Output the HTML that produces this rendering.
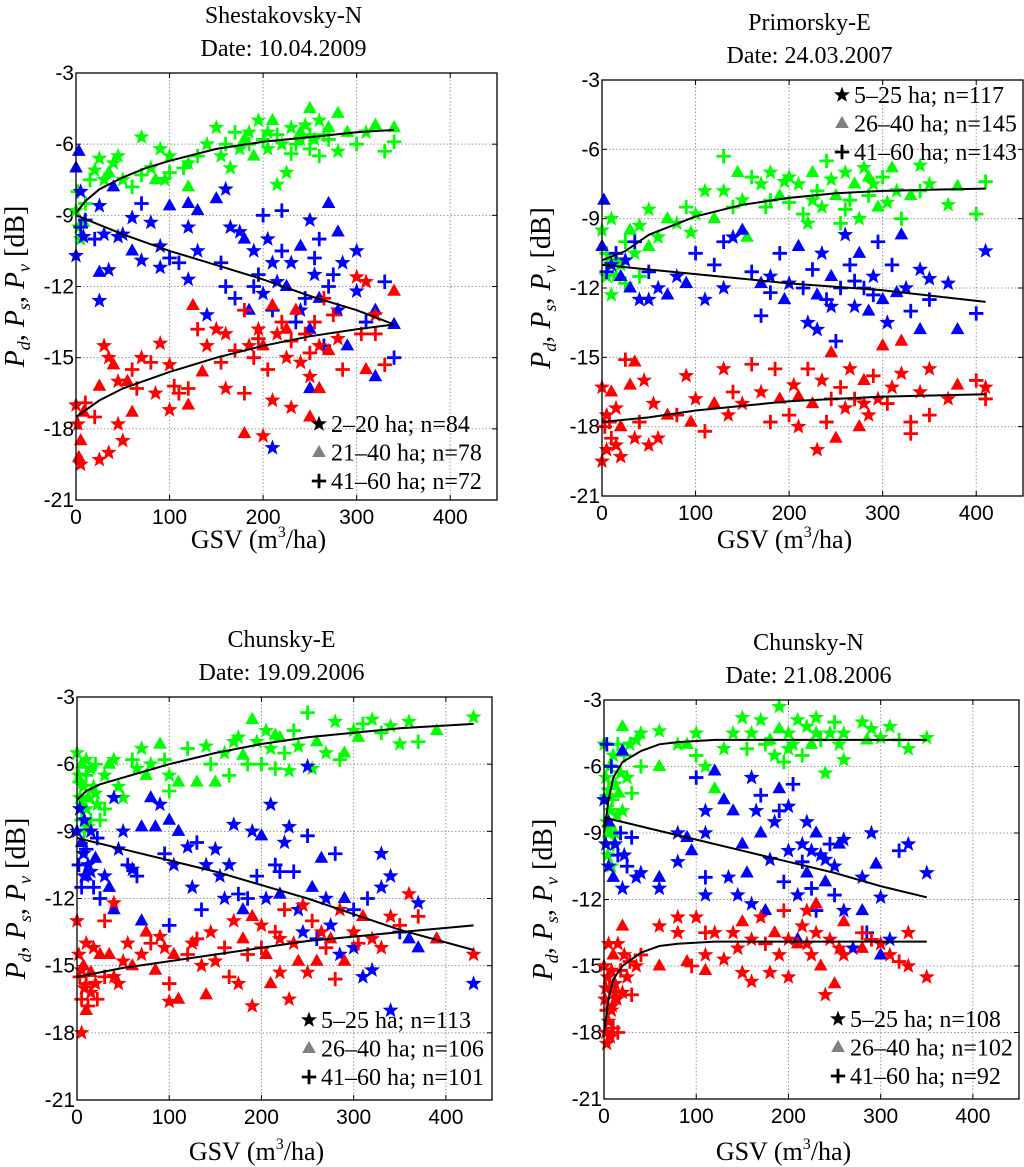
<!DOCTYPE html>
<html><head><meta charset="utf-8"><style>
body{margin:0;background:#fff;width:1024px;height:1167px;overflow:hidden}
svg{display:block}
</style></head><body>
<svg id="fig" width="1024" height="1167" xmlns="http://www.w3.org/2000/svg" font-family="Liberation Serif, serif"></svg>
<script>
// ---------------- data ----------------
const xTicks=[0,100,200,300,400];
const yTicks=[-3,-6,-9,-12,-15,-18,-21];
// Panel 1 Shestakovsky-N
const p1Green=[[0,-8.8,'s'],[3,-9.5,'s'],[5,-10,'s'],[8,-9.3,'t'],[2,-8,'p'],[10,-8.5,'p'],[15,-7.5,'p'],[20,-7.1,'s'],[25,-6.6,'s'],[30,-7.5,'s'],[35,-7.2,'t'],[40,-6.8,'s'],[45,-6.5,'s'],[50,-7.5,'s'],[60,-7.8,'p'],[70,-5.7,'s'],[70,-7.3,'p'],[80,-7.0,'s'],[85,-7.5,'t'],[90,-6.2,'s'],[95,-7.5,'s'],[100,-6.5,'s'],[100,-7.2,'p'],[115,-7.0,'p'],[120,-6.8,'s'],[120,-7.8,'t'],[130,-6.5,'p'],[140,-6.0,'s'],[150,-5.3,'s'],[155,-6.5,'s'],[160,-6.0,'p'],[165,-7.0,'s'],[170,-5.5,'p'],[180,-5.8,'t'],[185,-5.5,'s'],[190,-6.5,'t'],[195,-5.0,'s'],[200,-5.8,'p'],[205,-6.2,'s'],[210,-5.0,'t'],[215,-5.6,'p'],[220,-6.0,'s'],[225,-7.2,'s'],[230,-5.3,'s'],[235,-6.0,'p'],[240,-5.5,'t'],[245,-5.2,'s'],[250,-4.5,'t'],[250,-6.2,'p'],[255,-5.8,'s'],[260,-5.0,'s'],[260,-6.5,'p'],[265,-5.6,'p'],[270,-5.3,'t'],[280,-4.7,'t'],[280,-6.3,'s'],[290,-5.5,'t'],[300,-6.0,'p'],[310,-5.5,'s'],[320,-5.2,'t'],[330,-6.3,'p'],[340,-5.3,'t'],[340,-5.9,'p'],[215,-7.7,'s'],[240,-5.8,'s'],[250,-5.6,'p'],[270,-5.8,'p'],[185,-6.0,'p'],[175,-6.2,'s'],[230,-6.4,'p'],[205,-5.5,'s']];
const p1Blue=[[0,-7.0,'t'],[3,-6.3,'t'],[5,-8.0,'s'],[0,-10.7,'s'],[5,-9.5,'p'],[8,-9.9,'s'],[10,-9.2,'p'],[20,-10.0,'p'],[25,-8.6,'s'],[25,-11.4,'t'],[25,-12.6,'s'],[30,-9.8,'s'],[35,-11.3,'s'],[40,-7.8,'t'],[45,-9.9,'s'],[50,-9.8,'s'],[60,-10.5,'t'],[60,-9.1,'s'],[70,-8.5,'p'],[70,-10.9,'s'],[80,-9.3,'s'],[90,-11.2,'s'],[90,-10.3,'s'],[100,-8.6,'t'],[100,-10.8,'p'],[110,-11.0,'p'],[120,-9.5,'s'],[120,-11.7,'s'],[120,-8.5,'t'],[130,-10.5,'s'],[130,-8.8,'t'],[140,-13.2,'s'],[150,-8.3,'t'],[155,-11.0,'p'],[160,-7.9,'s'],[160,-12.0,'p'],[165,-9.5,'s'],[170,-12.5,'p'],[175,-9.7,'s'],[180,-10.0,'t'],[185,-13.0,'t'],[190,-10.5,'s'],[195,-11.5,'p'],[200,-9.0,'p'],[200,-12.3,'s'],[205,-10.0,'s'],[210,-13.0,'p'],[210,-18.8,'s'],[215,-11.8,'s'],[220,-8.8,'p'],[220,-10.5,'p'],[225,-12.0,'t'],[230,-11.0,'s'],[235,-13.5,'p'],[240,-10.3,'t'],[245,-12.5,'p'],[250,-9.2,'s'],[250,-13.8,'t'],[255,-11.5,'s'],[260,-10.0,'p'],[260,-12.5,'t'],[265,-14.5,'p'],[270,-8.5,'t'],[275,-11.5,'p'],[280,-9.7,'t'],[280,-13.0,'s'],[285,-11.0,'s'],[290,-14.5,'t'],[300,-10.5,'s'],[300,-12.2,'s'],[310,-13.5,'p'],[320,-13.0,'t'],[320,-15.8,'t'],[330,-11.8,'p'],[340,-13.6,'t'],[340,-15.0,'p'],[250,-16.3,'t'],[270,-12.0,'p'],[240,-13.0,'s'],[190,-12.0,'p'],[210,-11.0,'s'],[255,-10.8,'p']];
const p1Red=[[0,-17.0,'s'],[2,-17.8,'s'],[3,-19.2,'t'],[5,-18.5,'t'],[5,-19.5,'s'],[8,-17.3,'t'],[10,-16.9,'p'],[20,-17.5,'p'],[25,-19.3,'s'],[25,-16.2,'t'],[30,-14.5,'s'],[35,-19.0,'s'],[35,-15.0,'s'],[40,-15.3,'t'],[45,-16.0,'s'],[45,-17.8,'s'],[50,-18.5,'s'],[55,-16.0,'t'],[60,-15.5,'p'],[60,-17.3,'t'],[65,-16.3,'p'],[70,-15.0,'s'],[80,-15.2,'p'],[85,-16.5,'s'],[90,-14.4,'s'],[100,-15.3,'s'],[100,-17.2,'s'],[105,-16.2,'p'],[110,-16.5,'p'],[120,-16.3,'p'],[120,-17.0,'t'],[125,-12.8,'t'],[130,-13.8,'p'],[135,-15.6,'t'],[140,-14.5,'s'],[150,-13.8,'s'],[155,-15.2,'p'],[160,-16.3,'s'],[160,-14.0,'s'],[170,-14.7,'p'],[180,-16.5,'p'],[180,-13.0,'p'],[180,-18.2,'t'],[185,-14.5,'s'],[190,-15.0,'p'],[195,-13.8,'s'],[200,-18.3,'s'],[200,-14.5,'t'],[205,-15.5,'p'],[210,-12.8,'t'],[210,-16.8,'s'],[215,-14.0,'s'],[220,-13.5,'p'],[225,-15.0,'s'],[230,-14.3,'p'],[230,-17.1,'s'],[235,-13.0,'t'],[240,-15.2,'s'],[245,-14.0,'p'],[250,-15.8,'s'],[250,-17.5,'t'],[255,-13.5,'p'],[260,-14.5,'s'],[260,-16.3,'t'],[265,-12.5,'p'],[270,-14.7,'t'],[275,-13.2,'p'],[280,-14.2,'s'],[285,-15.5,'p'],[300,-11.6,'s'],[305,-14.0,'p'],[310,-11.8,'s'],[320,-13.2,'s'],[320,-14.0,'p'],[340,-12.2,'t'],[330,-15.3,'p'],[310,-15.5,'t'],[195,-14.2,'p'],[225,-13.8,'t'],[250,-14.8,'p']];
const p1GreenFitX=[0,10,25,50,75,100,150,200,250,300,340];
const p1GreenFitY=[-8.9,-8.4,-7.9,-7.4,-7.0,-6.7,-6.2,-5.9,-5.7,-5.5,-5.4];
const p1BlueFitX=[0,50,100,150,200,250,300,340];
const p1BlueFitY=[-9.0,-9.8,-10.5,-11.1,-11.7,-12.4,-13.0,-13.6];
const p1RedFitX=[0,25,50,100,150,200,250,300,340];
const p1RedFitY=[-17.5,-16.8,-16.3,-15.6,-15.0,-14.5,-14.1,-13.8,-13.6];
// Panel 2 Primorsky-E
const p2Green=[[0,-9.5,'s'],[5,-11.5,'s'],[5,-10.5,'p'],[10,-12.3,'s'],[10,-9.0,'s'],[15,-10.8,'t'],[20,-11.0,'s'],[25,-10.0,'p'],[30,-9.5,'t'],[35,-10.5,'s'],[40,-11.5,'p'],[40,-9.3,'s'],[50,-8.6,'s'],[50,-10.2,'t'],[60,-9.8,'s'],[70,-9.0,'t'],[80,-9.2,'s'],[90,-8.5,'p'],[95,-9.6,'s'],[100,-8.8,'s'],[110,-7.8,'s'],[120,-9.0,'t'],[130,-6.3,'p'],[130,-7.8,'s'],[140,-8.5,'p'],[145,-7.0,'t'],[150,-8.2,'s'],[155,-9.8,'t'],[160,-7.2,'p'],[170,-7.5,'s'],[175,-8.5,'p'],[180,-7.0,'s'],[190,-8.0,'t'],[195,-7.4,'s'],[200,-8.3,'p'],[210,-7.5,'s'],[215,-8.8,'p'],[220,-9.2,'s'],[225,-7.0,'t'],[230,-7.8,'p'],[235,-8.5,'s'],[240,-6.5,'p'],[245,-7.3,'s'],[250,-8.0,'t'],[255,-9.2,'p'],[260,-7.0,'s'],[265,-8.2,'p'],[270,-7.5,'t'],[275,-9.0,'s'],[280,-6.8,'s'],[285,-8.0,'p'],[290,-7.5,'s'],[295,-8.5,'t'],[300,-7.2,'p'],[305,-8.3,'s'],[310,-6.8,'t'],[315,-7.8,'s'],[320,-9.0,'p'],[330,-8.0,'t'],[340,-6.7,'s'],[340,-7.8,'p'],[350,-7.5,'s'],[370,-8.4,'s'],[380,-7.6,'t'],[400,-8.8,'p'],[410,-7.4,'p'],[260,-8.6,'p'],[200,-7.2,'s'],[180,-8.2,'p'],[15,-11.5,'s'],[25,-11.8,'p'],[8,-10.8,'t'],[225,-8.2,'s'],[285,-7.2,'t']];
const p2Blue=[[0,-10.2,'t'],[2,-8.2,'t'],[5,-11.3,'p'],[10,-11.0,'s'],[15,-10.5,'p'],[20,-11.5,'t'],[25,-10.8,'s'],[30,-12.0,'t'],[35,-10.0,'p'],[40,-12.5,'s'],[50,-12.5,'s'],[50,-11.3,'p'],[60,-12.0,'s'],[70,-12.3,'t'],[80,-11.5,'s'],[90,-11.8,'t'],[100,-10.5,'p'],[110,-12.5,'s'],[120,-11.0,'p'],[130,-10.0,'p'],[130,-12.0,'s'],[140,-9.8,'s'],[150,-9.5,'t'],[160,-11.3,'p'],[170,-11.8,'t'],[170,-13.2,'p'],[180,-11.5,'s'],[190,-10.5,'p'],[195,-12.5,'t'],[200,-11.8,'s'],[210,-10.2,'t'],[215,-12.0,'p'],[220,-13.5,'s'],[225,-11.2,'p'],[230,-13.8,'s'],[235,-10.5,'s'],[240,-12.5,'p'],[245,-11.5,'t'],[250,-14.3,'p'],[255,-12.0,'p'],[260,-9.7,'s'],[265,-11.0,'p'],[270,-12.8,'s'],[275,-10.5,'t'],[280,-12.0,'p'],[285,-13.0,'t'],[290,-11.5,'s'],[295,-10.0,'p'],[300,-12.5,'t'],[305,-13.5,'s'],[310,-11.0,'p'],[320,-9.7,'t'],[325,-12.0,'s'],[330,-13.0,'p'],[340,-11.2,'s'],[340,-13.8,'t'],[350,-12.5,'p'],[350,-11.6,'s'],[370,-11.8,'s'],[380,-13.8,'t'],[400,-13.1,'p'],[410,-10.4,'s'],[270,-11.7,'p'],[230,-12.3,'t'],[180,-12.2,'p'],[245,-12.8,'s'],[290,-12.3,'p'],[315,-12.2,'t']];
const p2Red=[[0,-16.3,'s'],[0,-19.5,'s'],[3,-18.0,'p'],[5,-17.5,'s'],[5,-19.0,'s'],[10,-18.5,'p'],[10,-16.5,'t'],[15,-17.2,'s'],[20,-19.3,'s'],[20,-18.0,'t'],[25,-15.1,'p'],[30,-16.2,'t'],[35,-15.2,'t'],[35,-18.5,'s'],[40,-17.8,'p'],[45,-16.0,'s'],[50,-18.8,'s'],[55,-17.0,'s'],[60,-18.5,'s'],[70,-17.5,'t'],[80,-17.5,'p'],[90,-15.8,'s'],[95,-17.8,'t'],[100,-16.8,'s'],[110,-18.2,'p'],[120,-17.0,'t'],[130,-15.5,'s'],[135,-17.5,'s'],[140,-16.5,'p'],[150,-17.0,'s'],[160,-15.3,'p'],[170,-16.5,'s'],[180,-17.8,'p'],[185,-15.5,'p'],[190,-16.8,'t'],[200,-17.5,'p'],[205,-16.2,'s'],[210,-18.0,'s'],[220,-15.5,'p'],[225,-17.0,'t'],[230,-19.0,'s'],[235,-16.0,'s'],[240,-17.8,'p'],[245,-14.8,'t'],[250,-18.5,'t'],[255,-16.3,'p'],[260,-17.2,'s'],[265,-15.5,'s'],[270,-16.8,'p'],[275,-18.0,'t'],[280,-16.0,'t'],[285,-17.5,'s'],[290,-15.8,'p'],[295,-16.8,'s'],[300,-14.5,'t'],[305,-17.0,'p'],[310,-16.3,'s'],[320,-14.3,'t'],[320,-15.7,'s'],[330,-17.8,'p'],[330,-18.3,'p'],[340,-16.5,'s'],[350,-15.5,'s'],[350,-17.5,'p'],[370,-16.8,'s'],[380,-16.2,'t'],[400,-16.0,'p'],[410,-16.3,'s'],[410,-16.8,'p'],[210,-16.7,'t'],[15,-18.8,'s'],[8,-17.8,'p'],[245,-16.8,'p'],[280,-17.0,'s']];
const p2GreenFitX=[0,25,50,100,150,200,250,300,350,410];
const p2GreenFitY=[-10.8,-10.4,-9.7,-8.9,-8.4,-8.1,-7.9,-7.8,-7.75,-7.7];
const p2BlueFitX=[0,100,200,300,410];
const p2BlueFitY=[-11.0,-11.4,-11.8,-12.1,-12.6];
const p2RedFitX=[0,50,100,150,200,250,300,410];
const p2RedFitY=[-17.8,-17.6,-17.3,-17.1,-16.9,-16.8,-16.7,-16.6];
// Panel 3 Chunsky-E
const p3Green=[[0,-5.5,'s'],[2,-6.5,'s'],[3,-7.5,'s'],[5,-8.5,'p'],[5,-6.0,'t'],[7,-7.0,'s'],[8,-9.0,'p'],[10,-6.5,'p'],[10,-8.0,'s'],[12,-7.5,'t'],[15,-6.2,'s'],[15,-8.5,'p'],[18,-7.0,'s'],[20,-6.0,'p'],[22,-7.8,'s'],[25,-8.5,'p'],[30,-6.5,'s'],[30,-8.0,'p'],[35,-6.0,'t'],[40,-5.8,'s'],[45,-7.0,'s'],[50,-7.5,'s'],[60,-5.8,'p'],[65,-6.2,'s'],[70,-5.3,'s'],[75,-6.5,'t'],[80,-6.0,'s'],[90,-5.1,'t'],[95,-5.8,'p'],[100,-6.5,'s'],[100,-7.2,'p'],[110,-6.8,'t'],[120,-5.3,'p'],[130,-6.8,'t'],[140,-5.2,'s'],[145,-6.0,'p'],[150,-6.8,'t'],[160,-5.5,'s'],[165,-6.5,'p'],[170,-5.0,'s'],[180,-5.6,'t'],[185,-6.0,'p'],[190,-4.0,'t'],[195,-5.0,'s'],[200,-6.0,'p'],[205,-4.5,'s'],[210,-5.3,'s'],[215,-6.2,'p'],[220,-4.8,'t'],[225,-5.5,'p'],[230,-6.3,'s'],[235,-4.5,'p'],[240,-5.2,'s'],[250,-3.7,'p'],[255,-6.2,'s'],[260,-5.0,'t'],[270,-5.5,'s'],[280,-4.1,'s'],[285,-5.8,'p'],[290,-5.5,'t'],[300,-4.5,'s'],[305,-4.8,'t'],[310,-4.2,'p'],[320,-4.0,'s'],[330,-4.6,'p'],[340,-4.3,'s'],[350,-5.1,'s'],[360,-4.1,'s'],[370,-5.0,'p'],[390,-4.5,'t'],[430,-3.9,'s'],[10,-5.8,'s'],[5,-7.8,'t'],[3,-6.8,'p'],[12,-8.8,'s'],[20,-7.3,'s'],[175,-4.8,'s'],[215,-4.7,'t']];
const p3Blue=[[0,-9.0,'s'],[2,-10.5,'p'],[3,-8.0,'s'],[5,-11.5,'p'],[5,-9.5,'t'],[7,-10.0,'s'],[8,-8.5,'s'],[10,-11.0,'t'],[10,-9.8,'p'],[12,-10.5,'s'],[15,-9.0,'s'],[18,-11.5,'p'],[20,-10.2,'t'],[22,-9.3,'p'],[25,-12.0,'p'],[30,-11.0,'s'],[35,-11.5,'t'],[40,-12.5,'t'],[40,-7.5,'s'],[45,-9.8,'s'],[50,-9.0,'s'],[55,-10.5,'p'],[60,-10.7,'s'],[65,-11.0,'p'],[70,-8.8,'t'],[70,-13.0,'t'],[80,-7.5,'t'],[85,-8.8,'t'],[90,-7.8,'s'],[95,-10.0,'p'],[100,-8.5,'t'],[100,-13.2,'p'],[105,-10.5,'s'],[110,-9.0,'t'],[120,-9.7,'s'],[125,-11.5,'s'],[130,-9.5,'p'],[135,-12.5,'p'],[140,-10.5,'s'],[150,-9.8,'s'],[155,-11.0,'s'],[160,-12.0,'s'],[165,-10.5,'s'],[170,-8.7,'s'],[175,-11.8,'p'],[180,-12.5,'t'],[190,-9.0,'s'],[195,-11.0,'p'],[200,-9.2,'t'],[205,-12.0,'s'],[210,-7.8,'s'],[215,-10.5,'p'],[220,-11.8,'t'],[225,-9.5,'s'],[230,-8.8,'s'],[235,-10.8,'p'],[240,-12.5,'s'],[245,-13.5,'s'],[250,-9.2,'p'],[255,-11.5,'t'],[260,-13.8,'p'],[265,-10.2,'t'],[270,-12.0,'s'],[275,-13.2,'s'],[280,-10.0,'p'],[285,-14.5,'s'],[290,-12.0,'t'],[300,-14.2,'s'],[300,-12.5,'p'],[310,-15.5,'s'],[315,-12.0,'p'],[320,-15.2,'s'],[330,-11.5,'s'],[330,-10.0,'s'],[340,-11.0,'s'],[340,-17.0,'s'],[350,-13.5,'p'],[360,-13.8,'t'],[370,-12.2,'s'],[370,-14.2,'t'],[390,-13.8,'t'],[430,-15.8,'s'],[250,-6.1,'s'],[15,-10.8,'s'],[8,-11.0,'s'],[185,-12.0,'p'],[220,-10.8,'p']];
const p3Red=[[0,-13.0,'s'],[2,-14.5,'s'],[3,-15.5,'p'],[5,-16.5,'p'],[5,-18.0,'s'],[7,-15.0,'t'],[8,-16.0,'s'],[10,-14.0,'s'],[10,-15.8,'p'],[12,-16.8,'p'],[15,-15.3,'t'],[18,-14.2,'s'],[20,-15.8,'s'],[22,-16.5,'p'],[25,-14.5,'t'],[30,-15.5,'p'],[30,-13.0,'p'],[35,-14.5,'t'],[40,-12.2,'s'],[40,-15.5,'s'],[45,-15.8,'s'],[50,-14.8,'s'],[55,-14.0,'s'],[60,-15.0,'t'],[70,-14.5,'s'],[75,-13.5,'t'],[80,-14.0,'p'],[85,-15.2,'t'],[90,-13.7,'s'],[95,-14.2,'s'],[100,-15.8,'p'],[100,-16.6,'s'],[105,-14.5,'t'],[110,-16.5,'t'],[120,-14.5,'p'],[125,-14.0,'s'],[130,-13.8,'p'],[135,-15.0,'s'],[140,-16.3,'t'],[145,-13.5,'s'],[150,-14.8,'s'],[160,-14.2,'p'],[165,-15.5,'p'],[170,-13.0,'s'],[175,-15.8,'s'],[180,-13.8,'t'],[185,-14.5,'p'],[190,-16.8,'s'],[190,-12.8,'t'],[200,-13.2,'s'],[205,-14.5,'t'],[210,-15.8,'t'],[215,-13.5,'p'],[220,-15.3,'s'],[225,-12.5,'p'],[230,-16.5,'s'],[235,-14.0,'s'],[240,-14.8,'t'],[245,-12.3,'s'],[250,-15.3,'s'],[255,-13.0,'p'],[260,-14.8,'t'],[265,-13.5,'s'],[270,-14.2,'p'],[275,-13.8,'t'],[280,-15.6,'p'],[285,-12.5,'s'],[290,-14.8,'t'],[300,-13.5,'s'],[305,-14.0,'p'],[310,-12.8,'t'],[320,-13.8,'s'],[330,-14.2,'s'],[340,-12.8,'s'],[350,-13.2,'p'],[360,-11.8,'s'],[370,-12.8,'p'],[390,-13.8,'t'],[430,-14.5,'s'],[5,-15.2,'s'],[15,-16.2,'s'],[10,-17.0,'t'],[200,-14.2,'p'],[220,-13.8,'s']];
const p3GreenFitX=[0,10,25,50,100,150,200,250,300,350,430];
const p3GreenFitY=[-7.6,-7.2,-6.9,-6.6,-6.0,-5.5,-5.1,-4.8,-4.6,-4.4,-4.2];
const p3BlueFitX=[0,50,100,150,200,250,300,350,430];
const p3BlueFitY=[-9.3,-9.8,-10.3,-10.8,-11.4,-12.0,-12.7,-13.4,-14.3];
const p3RedFitX=[0,50,100,150,200,250,300,350,430];
const p3RedFitY=[-15.5,-15.1,-14.8,-14.5,-14.2,-13.9,-13.7,-13.5,-13.2];
// Panel 4 Chunsky-N
const p4Green=[[0,-5.0,'s'],[2,-6.5,'s'],[3,-8.5,'s'],[4,-10.0,'s'],[5,-7.0,'p'],[5,-9.0,'t'],[6,-6.0,'s'],[7,-8.0,'s'],[8,-10.5,'s'],[9,-7.5,'p'],[10,-5.5,'s'],[10,-9.5,'p'],[12,-6.8,'s'],[14,-8.2,'s'],[15,-5.0,'p'],[16,-7.2,'t'],[18,-6.3,'s'],[20,-4.2,'t'],[20,-8.0,'s'],[22,-5.5,'p'],[25,-6.5,'s'],[28,-5.0,'s'],[30,-7.2,'p'],[35,-4.8,'s'],[40,-6.0,'p'],[40,-4.5,'s'],[60,-6.0,'t'],[60,-4.4,'s'],[80,-5.0,'s'],[90,-5.0,'t'],[100,-4.5,'s'],[100,-5.5,'p'],[110,-6.0,'s'],[120,-7.0,'t'],[130,-5.2,'s'],[140,-4.5,'s'],[150,-3.8,'s'],[155,-5.2,'p'],[160,-4.5,'s'],[170,-3.9,'s'],[175,-5.0,'p'],[180,-4.8,'t'],[185,-5.5,'s'],[190,-3.3,'s'],[190,-4.3,'t'],[195,-5.8,'p'],[200,-4.5,'s'],[205,-5.0,'s'],[210,-3.9,'s'],[215,-5.5,'p'],[220,-4.2,'s'],[225,-5.0,'t'],[230,-3.8,'s'],[235,-4.8,'p'],[240,-6.3,'s'],[245,-4.5,'s'],[250,-4.0,'p'],[255,-5.0,'s'],[260,-4.5,'s'],[260,-5.7,'s'],[280,-4.0,'s'],[285,-4.8,'t'],[290,-4.3,'s'],[300,-4.7,'s'],[310,-4.2,'s'],[320,-4.8,'p'],[330,-5.2,'s'],[350,-4.7,'s'],[5,-8.8,'s'],[12,-9.0,'s'],[3,-7.3,'p'],[200,-5.2,'s'],[230,-4.5,'s']];
const p4Blue=[[0,-7.5,'s'],[2,-9.5,'s'],[3,-5.0,'p'],[5,-8.5,'t'],[5,-10.5,'s'],[8,-6.0,'p'],[10,-11.0,'t'],[12,-9.5,'s'],[15,-10.0,'p'],[18,-9.0,'p'],[20,-5.3,'t'],[20,-11.5,'s'],[22,-10.0,'s'],[25,-10.5,'p'],[30,-9.2,'p'],[35,-11.0,'s'],[40,-10.8,'s'],[60,-11.0,'t'],[60,-11.5,'s'],[80,-9.0,'s'],[80,-10.3,'s'],[90,-9.2,'t'],[95,-9.8,'t'],[100,-6.5,'p'],[110,-8.0,'s'],[110,-9.0,'s'],[110,-11.8,'s'],[110,-11.0,'p'],[120,-6.2,'t'],[130,-7.5,'t'],[135,-11.0,'s'],[140,-8.0,'t'],[145,-11.8,'s'],[150,-9.5,'t'],[155,-10.8,'t'],[160,-6.5,'s'],[160,-12.2,'s'],[165,-8.0,'s'],[170,-9.0,'t'],[170,-7.3,'p'],[175,-12.5,'t'],[180,-10.2,'s'],[185,-8.5,'s'],[190,-7.0,'t'],[190,-8.0,'p'],[195,-11.2,'p'],[200,-7.8,'s'],[200,-9.8,'s'],[205,-6.8,'p'],[210,-11.8,'s'],[210,-13.8,'t'],[215,-9.5,'s'],[220,-8.5,'s'],[220,-10.8,'t'],[225,-11.5,'p'],[230,-9.0,'t'],[230,-12.5,'p'],[235,-10.0,'s'],[240,-11.2,'t'],[245,-9.5,'p'],[250,-10.5,'s'],[250,-11.8,'p'],[255,-9.5,'t'],[260,-12.5,'s'],[260,-9.3,'s'],[270,-14.2,'s'],[280,-11.0,'s'],[280,-12.5,'t'],[285,-13.5,'p'],[290,-9.0,'s'],[295,-10.4,'t'],[300,-11.9,'s'],[300,-14.5,'t'],[310,-13.8,'s'],[320,-9.8,'p'],[330,-9.5,'s'],[350,-10.8,'s'],[225,-9.8,'s'],[240,-10.2,'s'],[215,-10.3,'p']];
const p4Red=[[0,-15.0,'s'],[1,-16.5,'s'],[2,-18.0,'s'],[3,-17.0,'p'],[3,-18.5,'s'],[4,-15.5,'s'],[5,-17.5,'s'],[5,-14.0,'s'],[6,-16.0,'p'],[7,-18.2,'s'],[8,-15.2,'s'],[9,-16.8,'s'],[10,-14.5,'t'],[10,-17.8,'p'],[12,-15.8,'s'],[14,-16.5,'s'],[15,-14.0,'s'],[15,-18.0,'p'],[18,-15.2,'p'],[20,-13.2,'t'],[20,-16.2,'s'],[22,-14.5,'s'],[25,-15.5,'s'],[28,-14.8,'p'],[30,-16.3,'p'],[35,-15.0,'s'],[40,-14.5,'p'],[60,-13.2,'s'],[60,-15.0,'t'],[80,-13.5,'s'],[80,-12.8,'s'],[90,-14.8,'t'],[95,-15.0,'p'],[100,-12.8,'s'],[110,-13.5,'p'],[110,-14.5,'s'],[110,-15.2,'t'],[120,-13.5,'s'],[130,-14.7,'s'],[140,-13.5,'s'],[145,-14.2,'s'],[150,-13.0,'t'],[150,-15.3,'s'],[160,-13.8,'s'],[160,-15.7,'s'],[170,-12.8,'s'],[175,-14.0,'p'],[180,-15.3,'s'],[185,-13.5,'t'],[190,-14.5,'s'],[195,-12.5,'p'],[200,-13.8,'s'],[200,-15.5,'s'],[210,-14.0,'t'],[215,-13.2,'s'],[220,-12.5,'s'],[225,-14.5,'s'],[230,-12.2,'t'],[235,-15.0,'t'],[240,-16.3,'s'],[245,-13.8,'s'],[250,-15.8,'t'],[255,-14.2,'s'],[260,-13.0,'t'],[260,-14.5,'s'],[280,-13.5,'p'],[280,-14.2,'t'],[290,-13.8,'p'],[300,-14.0,'s'],[310,-14.5,'s'],[320,-14.8,'p'],[330,-13.5,'s'],[330,-15.0,'s'],[350,-15.5,'s'],[8,-17.0,'s'],[12,-16.2,'s'],[2,-16.0,'s'],[220,-14.0,'s'],[230,-13.5,'s']];
const p4GreenFitX=[0,5,10,20,40,60,80,120,200,350];
const p4GreenFitY=[-9.0,-7.5,-6.5,-5.8,-5.3,-5.0,-4.9,-4.8,-4.8,-4.8];
const p4BlueFitX=[0,50,100,150,200,250,300,350];
const p4BlueFitY=[-8.3,-8.8,-9.3,-9.8,-10.3,-10.8,-11.4,-11.9];
const p4RedFitX=[0,5,10,20,40,60,80,120,200,350];
const p4RedFitY=[-18.0,-16.5,-15.6,-15.0,-14.4,-14.1,-14.0,-13.9,-13.9,-13.9];
// legends
const leg1=['2–20 ha; n=84','21–40 ha; n=78','41–60 ha; n=72'];
const leg2=['5–25 ha; n=117','26–40 ha; n=145','41–60 ha; n=143'];
const leg3=['5–25 ha; n=113','26–40 ha; n=106','41–60 ha; n=101'];
const leg4=['5–25 ha; n=108','26–40 ha; n=102','41–60 ha; n=92'];

// ---------------- drawing ----------------
const NS='http://www.w3.org/2000/svg';
const svg=document.getElementById('fig');
function el(tag,attrs,parent){const e=document.createElementNS(NS,tag);for(const k in attrs)e.setAttribute(k,attrs[k]);(parent||svg).appendChild(e);return e;}

function marker(g,m,cx,cy,color,scale){
  const s=scale||1;let e;
  if(m==='s'){
    let pts=[];for(let i=0;i<10;i++){const r=(i%2?3.5:8.4)*s;const a=-Math.PI/2+i*Math.PI/5;pts.push((cx+r*Math.cos(a)).toFixed(1)+','+(cy+r*Math.sin(a)).toFixed(1));}
    e=el('polygon',{points:pts.join(' '),fill:color},g);
  }else if(m==='t'){
    const r=7.6*s;
    e=el('polygon',{points:`${cx},${cy-r} ${cx+r*0.9},${cy+r*0.6} ${cx-r*0.9},${cy+r*0.6}`,fill:color},g);
  }else{
    const r=7.2*s;
    e=el('path',{d:`M${cx-r},${cy}H${cx+r}M${cx},${cy-r}V${cy+r}`,stroke:color,'stroke-width':2.8*s,fill:'none'},g);
  }
  return e;
}

function panel(cfg){
  const {L,R,T,B,title,date,series,fits,legend,legX,legY,name}=cfg;
  const g=el('g',{});
  
  
  const xs=v=>L+(v/450)*(R-L);
  const ys=v=>T+((-3-v)/18)*(B-T);
  el('rect',{x:L,y:T,width:R-L,height:B-T,fill:'#fff'},g);
  const grid=el('g',{stroke:'#999','stroke-width':1,'stroke-dasharray':'1.5,2'},g);
  
  
  xTicks.forEach(t=>{if(t>0)el('line',{x1:xs(t),x2:xs(t),y1:T,y2:B},grid);});
  yTicks.forEach(t=>{if(t>-21&&t<-3)el('line',{x1:L,x2:R,y1:ys(t),y2:ys(t)},grid);});
  const xl=el('g',{'font-family':'Liberation Sans, sans-serif','font-size':21,fill:'#000','text-anchor':'middle'},g);
  
  
  xTicks.forEach(t=>{const tx=el('text',{x:xs(t),y:B+24},xl);tx.textContent=t;});
  const yl=el('g',{'font-family':'Liberation Sans, sans-serif','font-size':21,fill:'#000','text-anchor':'end'},g);
  
  
  yTicks.forEach(t=>{const tx=el('text',{x:L-2,y:ys(t)+7},yl);tx.textContent=t;});
  xTicks.forEach(t=>{el('line',{x1:xs(t),x2:xs(t),y1:B,y2:B-5,stroke:'#000'},g);el('line',{x1:xs(t),x2:xs(t),y1:T,y2:T+5,stroke:'#000'},g);});
  yTicks.forEach(t=>{el('line',{x1:L,x2:L+5,y1:ys(t),y2:ys(t),stroke:'#000'},g);el('line',{x1:R,x2:R-5,y1:ys(t),y2:ys(t),stroke:'#000'},g);});
  series.forEach(([arr,color,sname])=>{
    const sg=el('g',{},g);
    
    
    arr.forEach(p=>{
      const m=marker(sg,p[2],xs(p[0]),ys(p[1]),color);
      
      
    });
  });
  fits.forEach(([fx,fy,fname])=>{
    const d=fx.map((v,i)=>(i?'L':'M')+xs(v).toFixed(1)+','+ys(fy[i]).toFixed(1)).join('');
    const p=el('path',{d:d,stroke:'#000','stroke-width':2,fill:'none'},g);
    
    
  });
  el('rect',{x:L,y:T,width:R-L,height:B-T,fill:'none',stroke:'#000','stroke-width':1.3},g);
  const lg=el('g',{},g);
  
  
  ['s','t','p'].forEach((m,i)=>{
    const y=legY+i*28.5;
    const mk=marker(lg,m,legX,y,m==='t'?'#808080':'#000',1.0);
    
    
    const tx=el('text',{x:legX+12,y:y+8,'font-size':24,fill:'#000'},lg);
    
    
    tx.textContent=legend[i];
  });
  const cx=(L+R)/2;
  const t1=el('text',{x:cx-3,y:T-50,'font-size':24,'text-anchor':'middle'},g);
  
  
  t1.textContent=title;
  const t2=el('text',{x:cx-3,y:T-17,'font-size':24,'text-anchor':'middle'},g);
  
  
  t2.textContent=date;
  const xlab=el('text',{x:cx-28,y:cfg.xlabY,'font-size':26,'text-anchor':'middle'},g);
  
  
  xlab.innerHTML='GSV (m<tspan font-size="16" dy="-11">3</tspan><tspan dy="11">/ha)</tspan>';
  const ycy=(T+B)/2;
  const ylab=el('text',{x:0,y:0,'font-size':28,'text-anchor':'middle',transform:`translate(${L-52},${ycy}) rotate(-90)`},g);
  
  
  ylab.innerHTML='<tspan font-style="italic">P</tspan><tspan font-style="italic" font-size="18" dy="6">d</tspan><tspan dy="-6">, </tspan><tspan font-style="italic">P</tspan><tspan font-style="italic" font-size="18" dy="6">s</tspan><tspan dy="-6">, </tspan><tspan font-style="italic">P</tspan><tspan font-style="italic" font-size="18" dy="6">v</tspan><tspan dy="-6"> [dB]</tspan>';
}

panel({name:'panel-shestakovsky-n',L:76,R:497,T:73,B:500,title:'Shestakovsky-N',date:'Date: 10.04.2009',
  series:[[p1Green,'#00ff00','pv-series'],[p1Blue,'#0000ff','ps-series'],[p1Red,'#ff0000','pd-series']],
  fits:[[p1GreenFitX,p1GreenFitY,'pv-fit'],[p1BlueFitX,p1BlueFitY,'ps-fit'],[p1RedFitX,p1RedFitY,'pd-fit']],
  legend:leg1,legX:319,legY:424,xlabY:548});
panel({name:'panel-primorsky-e',L:602,R:1023,T:80,B:496,title:'Primorsky-E',date:'Date: 24.03.2007',
  series:[[p2Green,'#00ff00','pv-series'],[p2Blue,'#0000ff','ps-series'],[p2Red,'#ff0000','pd-series']],
  fits:[[p2GreenFitX,p2GreenFitY,'pv-fit'],[p2BlueFitX,p2BlueFitY,'ps-fit'],[p2RedFitX,p2RedFitY,'pd-fit']],
  legend:leg2,legX:842,legY:95,xlabY:548});
panel({name:'panel-chunsky-e',L:77,R:492,T:697,B:1100,title:'Chunsky-E',date:'Date: 19.09.2006',
  series:[[p3Green,'#00ff00','pv-series'],[p3Blue,'#0000ff','ps-series'],[p3Red,'#ff0000','pd-series']],
  fits:[[p3GreenFitX,p3GreenFitY,'pv-fit'],[p3BlueFitX,p3BlueFitY,'ps-fit'],[p3RedFitX,p3RedFitY,'pd-fit']],
  legend:leg3,legX:309,legY:1020,xlabY:1160});
panel({name:'panel-chunsky-n',L:604,R:1019,T:700,B:1099,title:'Chunsky-N',date:'Date: 21.08.2006',
  series:[[p4Green,'#00ff00','pv-series'],[p4Blue,'#0000ff','ps-series'],[p4Red,'#ff0000','pd-series']],
  fits:[[p4GreenFitX,p4GreenFitY,'pv-fit'],[p4BlueFitX,p4BlueFitY,'ps-fit'],[p4RedFitX,p4RedFitY,'pd-fit']],
  legend:leg4,legX:838,legY:1019,xlabY:1160});
</script>
</body></html>
